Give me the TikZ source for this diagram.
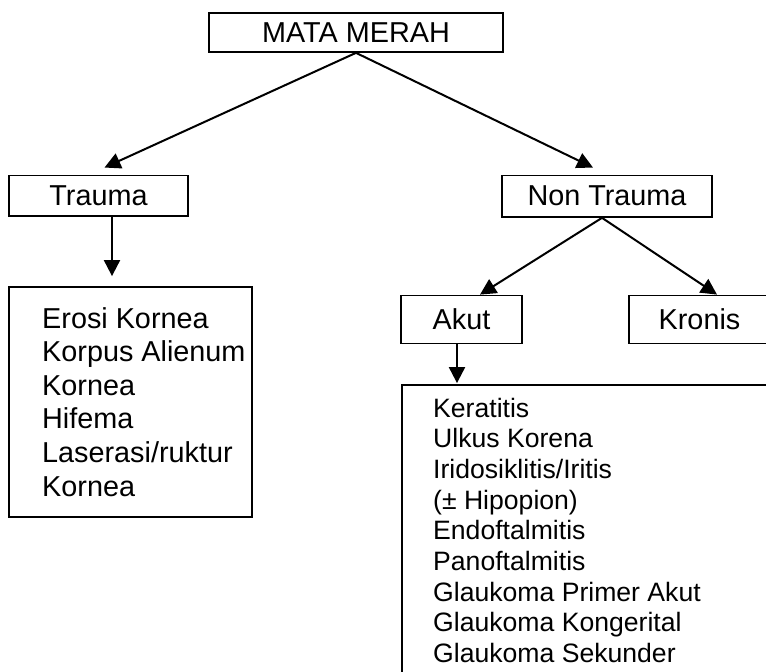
\documentclass[tikz,border=0pt]{standalone}
\usepackage{fontspec}
\setmainfont{Liberation Sans}
\usetikzlibrary{arrows.meta}
\begin{document}
\begin{tikzpicture}[x=1pt,y=-1pt,
  box/.style={draw, line width=1.8pt, inner sep=0pt, font=\fontsize{28.8}{33}\selectfont},
  arr/.style={line width=2pt, -{Triangle[length=16pt,width=16pt]}},
  itemA/.style={anchor=base west, inner sep=0pt, font=\fontsize{28.8}{33}\selectfont},
  itemB/.style={anchor=base west, inner sep=0pt, font=\fontsize{26.6}{30}\selectfont}]
\useasboundingbox (0,0) rectangle (766,672);

% boxes
\node[box, minimum width=294pt, minimum height=39.3pt] (mata) at (356,32.3) {MATA MERAH};
\node[box, minimum width=179pt, minimum height=40.5pt] (trauma) at (98.5,195.7) {Trauma};
\node[box, minimum width=210pt, minimum height=41.5pt] (nontrauma) at (607,196.2) {Non Trauma};
\node[box, minimum width=121pt, minimum height=48pt] (akut) at (461.5,319.5) {Akut};
\node[box, minimum width=141pt, minimum height=48pt] (kronis) at (699.5,319.5) {Kronis};
\node[box, minimum width=243pt, minimum height=230pt] (leftbox) at (130.5,402) {};
\node[box, minimum width=378pt, minimum height=305pt] (rightbox) at (591,537.5) {};

% list of traumatic causes
\foreach \t [count=\i] in {Erosi Kornea, Korpus Alienum, Kornea, Hifema, Laserasi/ruktur, Kornea}
  \node[itemA] (ta\i) at (42,{328+33.6*(\i-1)}) {\t};

% list of acute non-traumatic causes
\foreach \t [count=\i] in {Keratitis, Ulkus Korena, Iridosiklitis/Iritis, (± Hipopion), Endoftalmitis, Panoftalmitis, Glaukoma Primer Akut, Glaukoma Kongerital, Glaukoma Sekunder}
  \node[itemB] (ak\i) at (433,{417+30.7*(\i-1)}) {\t};

% connectors
\draw[arr] (mata.south) -- ([xshift=6pt,yshift=7pt]trauma.north);
\draw[arr] (mata.south) -- ([xshift=-14pt,yshift=7pt]nontrauma.north);
\draw[arr] ([xshift=13.5pt]trauma.south) -- ([xshift=13.5pt,yshift=10pt]trauma.south |- leftbox.north);
\draw[arr] ([xshift=-5pt]nontrauma.south) -- ([xshift=18.5pt]akut.north);
\draw[arr] ([xshift=-5pt]nontrauma.south) -- ([xshift=17.5pt]kronis.north);
\draw[arr] ([xshift=-4.5pt]akut.south) -- ([xshift=-4.5pt,yshift=1pt]akut.south |- rightbox.north);
\end{tikzpicture}
\end{document}
